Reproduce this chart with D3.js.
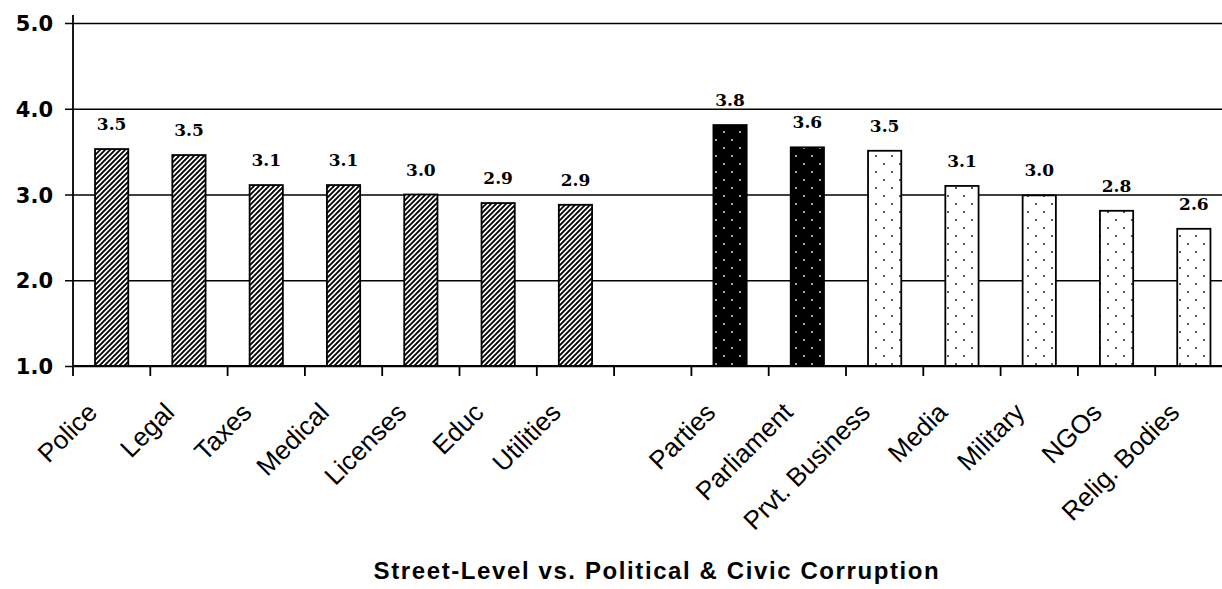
<!DOCTYPE html>
<html><head><meta charset="utf-8">
<script src="https://cdn.jsdelivr.net/npm/d3@7"></script>
<style>
html,body{margin:0;padding:0;background:#fff;}
svg{display:block;}
</style></head>
<body>
<div id="chart"></div>
<script>
// ---- data ----
const categories = ["Police","Legal","Taxes","Medical","Licenses","Educ","Utilities","",
                    "Parties","Parliament","Prvt. Business","Media","Military","NGOs","Relig. Bodies"];
const values     = [3.53,3.46,3.11,3.11,3.00,2.90,2.88,null,
                    3.81,3.55,3.51,3.10,2.99,2.81,2.60];
const valueLabels= ["3.5","3.5","3.1","3.1","3.0","2.9","2.9","",
                    "3.8","3.6","3.5","3.1","3.0","2.8","2.6"];
const groups     = ["street","street","street","street","street","street","street","",
                    "political","political","civic","civic","civic","civic","civic"];
const yTicks = [1,2,3,4,5];
const yTickLabels = ["1.0","2.0","3.0","4.0","5.0"];
const title = "Street-Level vs. Political & Civic Corruption";

// ---- layout ----
const W = 1222, H = 589;
const x0 = 73, step = 77.3;
const svg = d3.select("#chart").append("svg").attr("width", W).attr("height", H);

const defs = svg.append("defs");
const hatch = defs.append("pattern").attr("id","hatch").attr("patternUnits","userSpaceOnUse")
  .attr("width",5).attr("height",5);
hatch.append("rect").attr("width",5).attr("height",5).attr("fill","#fff");
hatch.append("path").attr("d","M-1,1 l2,-2 M0,5 l5,-5 M4,6 l2,-2")
  .attr("stroke","#000").attr("stroke-width",1.9);

function dots(id, bg, fg){
  const p = defs.append("pattern").attr("id",id).attr("patternUnits","userSpaceOnUse")
    .attr("width",16).attr("height",16);
  p.append("rect").attr("width",16).attr("height",16).attr("fill",bg);
  p.append("rect").attr("x",3.2).attr("y",3.2).attr("width",1.6).attr("height",1.6).attr("fill",fg);
  p.append("rect").attr("x",11.2).attr("y",11.2).attr("width",1.6).attr("height",1.6).attr("fill",fg);
}
dots("dotsBlack","#000","#fff");
dots("dotsWhite","#fff","#000");
const fillFor = {street:"url(#hatch)", political:"url(#dotsBlack)", civic:"url(#dotsWhite)"};

const slots = categories.map((c,i)=>i);
const x = d3.scaleBand().domain(slots).range([x0, x0 + step*slots.length])
  .paddingInner(0.57).paddingOuter(0.285);
const y = d3.scaleLinear().domain([1,5]).range([366, 23]);

// gridlines + y axis
const yAxis = d3.axisLeft(y).tickValues(yTicks).tickSize(-(W - x0 + 10)).tickFormat((d,i)=>yTickLabels[i]);
const gy = svg.append("g").attr("transform",`translate(${x0},0)`).call(yAxis);
gy.select(".domain").remove();
gy.selectAll(".tick line").attr("stroke","#000").attr("stroke-width",1.6).attr("x1",-8);
gy.selectAll(".tick text").attr("x",-20).attr("dy","0.36em")
  .attr("font-family","DejaVu Sans").attr("font-weight","bold").attr("font-size",21).attr("fill","#000");
svg.append("line").attr("x1",x0).attr("x2",x0).attr("y1",15).attr("y2",y(1))
  .attr("stroke","#000").attr("stroke-width",1.8);

// bars
const data = categories.map((c,i)=>({c, i, v:values[i], g:groups[i], lab:valueLabels[i]})).filter(d=>d.v!=null);
svg.append("g").selectAll("rect").data(data).join("rect")
  .attr("x",d=>x(d.i)).attr("width",x.bandwidth())
  .attr("y",d=>y(d.v)).attr("height",d=>y(1)-y(d.v))
  .attr("fill",d=>fillFor[d.g]).attr("stroke","#000").attr("stroke-width",1.8);

// x axis line and ticks
svg.append("line").attr("x1",x0).attr("x2",W).attr("y1",y(1)).attr("y2",y(1))
  .attr("stroke","#000").attr("stroke-width",1.8);
const tickXs = slots.map(i=>x(i) + x.bandwidth()/2 - x.step()/2);
svg.append("g").selectAll("line").data(tickXs).join("line")
  .attr("x1",d=>d).attr("x2",d=>d).attr("y1",y(1)).attr("y2",y(1)+10)
  .attr("stroke","#000").attr("stroke-width",1.8);

// value labels
svg.append("g").selectAll("text").data(data).join("text")
  .attr("x",d=>x(d.i)+x.bandwidth()/2).attr("y",d=>y(d.v)-19)
  .attr("text-anchor","middle").attr("font-family","DejaVu Serif").attr("font-weight","bold")
  .attr("font-size",17).attr("fill","#000").text(d=>d.lab);

// category labels
svg.append("g").selectAll("text").data(data).join("text")
  .attr("transform",d=>`translate(${x(d.i)+x.bandwidth()/2-13},414) rotate(-45)`)
  .attr("text-anchor","end").attr("font-family","Liberation Sans")
  .attr("font-size",26).attr("fill","#000").text(d=>d.c);

// title
svg.append("text").attr("x",657).attr("y",579).attr("text-anchor","middle")
  .attr("font-family","Liberation Sans").attr("font-weight","bold").attr("font-size",24)
  .attr("letter-spacing",1.6).attr("fill","#000").text(title);
</script>
</body></html>
